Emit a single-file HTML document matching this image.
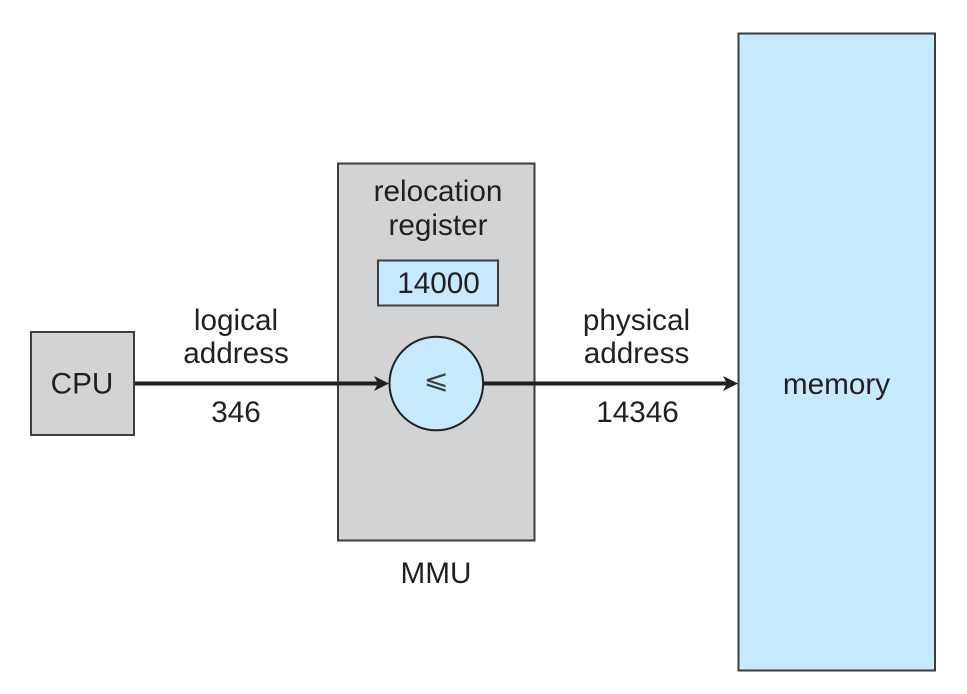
<!DOCTYPE html>
<html>
<head>
<meta charset="utf-8">
<style>
html,body{margin:0;padding:0;background:#fff;width:967px;height:694px;overflow:hidden}
svg{display:block}
text{font-family:"Liberation Sans",sans-serif;font-size:29.7px;fill:#231f20;text-anchor:middle}
</style>
</head>
<body>
<svg width="967" height="694" viewBox="0 0 967 694" xmlns="http://www.w3.org/2000/svg">
<rect x="0" y="0" width="967" height="694" fill="#fff"/>
<rect x="738.5" y="33.5" width="196.5" height="637" fill="#c7e9fd" stroke="#3b3d3f" stroke-width="2"/>
<rect x="338" y="163.5" width="196.5" height="377" fill="#d1d3d4" stroke="#3b3d3f" stroke-width="2"/>
<rect x="31" y="332" width="103" height="103" fill="#d1d3d4" stroke="#3b3d3f" stroke-width="2"/>
<rect x="378" y="260.5" width="120" height="45" fill="#c7e9fd" stroke="#3b3d3f" stroke-width="2"/>
<line x1="135" y1="383.5" x2="378" y2="383.5" stroke="#231f20" stroke-width="4"/>
<polygon points="389,383.5 374,376 378,383.5 374,391" fill="#231f20"/>
<line x1="483" y1="383.5" x2="727" y2="383.5" stroke="#231f20" stroke-width="4"/>
<polygon points="738,383.5 723,376 727,383.5 723,391" fill="#231f20"/>
<circle cx="436.3" cy="383.5" r="46.8" fill="#c7e9fd" stroke="#231f20" stroke-width="2"/>
<text x="82" y="393.5">CPU</text>
<text x="236" y="330">logical</text>
<text x="236" y="363">address</text>
<text x="236" y="422">346</text>
<text x="438" y="201">relocation</text>
<text x="438" y="235">register</text>
<text x="438.5" y="293">14000</text>
<text x="636.5" y="330">physical</text>
<text x="636.5" y="363">address</text>
<text x="637.5" y="422">14346</text>
<text x="436" y="583">MMU</text>
<text x="836.5" y="394">memory</text>
<text transform="translate(436 388.5) scale(1 .88)" style="font-family:'DejaVu Sans',sans-serif;font-size:30px;fill-opacity:.85">⩽</text>
</svg>
</body>
</html>
